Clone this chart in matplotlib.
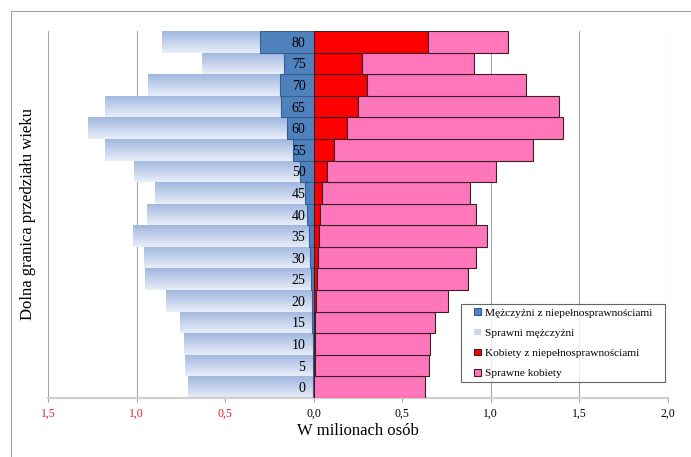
import numpy as np
import matplotlib
matplotlib.use("Agg")
import matplotlib.pyplot as plt
from matplotlib.patches import Patch, Rectangle
from matplotlib.legend_handler import HandlerPatch
from matplotlib.colors import to_rgb

plt.rcParams['font.family'] = ['Liberation Serif', 'DejaVu Serif']

# Age groups (lower bound of each 5-year bracket)
ages = [0, 5, 10, 15, 20, 25, 30, 35, 40, 45, 50, 55, 60, 65, 70, 75, 80]

# Population in millions
men_disabled = [0.005, 0.007, 0.007, 0.009, 0.009, 0.015, 0.020, 0.028, 0.040,
                0.047, 0.075, 0.115, 0.154, 0.184, 0.188, 0.166, 0.301]
men_able = [0.703, 0.718, 0.725, 0.746, 0.825, 0.938, 0.942, 0.995, 0.901,
            0.849, 0.938, 1.067, 1.123, 0.998, 0.750, 0.467, 0.558]
women_disabled = [0.003, 0.005, 0.006, 0.007, 0.010, 0.017, 0.023, 0.027, 0.036,
                  0.045, 0.073, 0.113, 0.189, 0.251, 0.302, 0.271, 0.648]
women_able = [0.626, 0.645, 0.652, 0.679, 0.747, 0.853, 0.894, 0.950, 0.878,
              0.839, 0.955, 1.124, 1.218, 1.137, 0.898, 0.637, 0.452]

x_ticks = [-1.5, -1.0, -0.5, 0.0, 0.5, 1.0, 1.5, 2.0]

labels = ["Mężczyźni z niepełnosprawnościami", "Sprawni mężczyźni",
          "Kobiety z niepełnosprawnościami", "Sprawne kobiety"]

dark_blue = '#4f81bd'
dark_blue_edge = '#365f91'
light_top = '#a0b7e0'
light_bottom = '#e9eef8'
red = '#ff0000'
pink = '#ff76bb'
bar_edge = '#3c1e28'

W, H = 691, 457
fig = plt.figure(figsize=(W / 100, H / 100), dpi=100)
ax = fig.add_axes([48.3 / W, 59 / H, 619.4 / W, 367 / H])

pos = np.arange(len(ages))
md = np.array(men_disabled)
ma = np.array(men_able)
wd = np.array(women_disabled)
wa = np.array(women_able)

# Men on the negative side, disabled part next to the axis
ax.barh(pos, -md, height=1.0, color=dark_blue, edgecolor=dark_blue_edge,
        linewidth=0.8, zorder=3)
able_bars = ax.barh(pos, -ma, left=-md, height=1.0, color=light_bottom,
                    linewidth=0, zorder=2)

# Vertical gradient fill for the able-bodied men bars
c0 = np.array(to_rgb(light_top))
c1 = np.array(to_rgb(light_bottom))
t = np.linspace(0, 1, 64)[:, None]
grad = (c0 * (1 - t) + c1 * t)[:, None, :]
for rect in able_bars:
    x0, y0 = rect.get_x(), rect.get_y()
    w, h = rect.get_width(), rect.get_height()
    im = ax.imshow(grad, extent=[x0 + w, x0, y0, y0 + h], origin='upper',
                   aspect='auto', interpolation='bilinear', zorder=2.1)
    im.set_clip_path(rect)

# Women on the positive side
ax.barh(pos, wd, height=1.0, color=red, edgecolor=bar_edge,
        linewidth=0.8, zorder=3)
ax.barh(pos, wa, left=wd, height=1.0, color=pink, edgecolor=bar_edge,
        linewidth=0.8, zorder=3)

ax.set_xlim(-1.5, 2.0)
ax.set_ylim(-0.5, len(ages) - 0.5)

# X axis
ax.set_xticks(x_ticks)
ax.set_xticklabels([f"{abs(v):.1f}".replace('.', ',') for v in x_ticks],
                   fontsize=8.5)
for lab, v in zip(ax.get_xticklabels(), x_ticks):
    lab.set_color('#e8202a' if v < 0 else 'black')
ax.tick_params(axis='x', direction='out', length=3, width=0.8,
               color='#a0a0a0', pad=4)
ax.grid(axis='x', color='#a6a6a6', linewidth=0.8)
ax.set_axisbelow(True)
ax.set_xlabel("W milionach osób", fontsize=12, labelpad=2.5)

# Age labels sitting at the zero line
ax.set_yticks(pos)
ax.set_yticklabels([str(a) for a in ages], fontsize=8.5)
ax.spines['left'].set_position(('data', 0))
ax.spines['left'].set_visible(False)
ax.tick_params(axis='y', length=0, pad=6)
ax.yaxis.set_zorder(5)

for s in ['top', 'right']:
    ax.spines[s].set_visible(False)
ax.spines['bottom'].set_color('#d0d0d0')
ax.spines['bottom'].set_linewidth(1.6)

fig.text(28 / W, 1 - 214.5 / H, "Dolna granica przedziału wieku",
         rotation=90, ha='center', va='center', fontsize=12)


# Small square legend keys placed at the right end of the handle area
def small_square(legend, orig_handle, xdescent, ydescent, width, height,
                 fontsize):
    s = 0.58 * fontsize
    return Rectangle((-xdescent + width - s, -ydescent + (height - s) / 2),
                     s, s)


handles = [
    Patch(facecolor=dark_blue, edgecolor=dark_blue_edge, linewidth=0.8),
    Patch(facecolor='#c9d6ee', edgecolor='none'),
    Patch(facecolor=red, edgecolor=bar_edge, linewidth=0.8),
    Patch(facecolor=pink, edgecolor=bar_edge, linewidth=0.8),
]
leg = ax.legend(handles, labels, loc='lower left',
                bbox_to_anchor=(0.666, 0.0436, 0.3297, 0.2), mode='expand',
                borderaxespad=0, fontsize=8.2, frameon=True, fancybox=False,
                handlelength=1.45, handleheight=0.7, handletextpad=0.36,
                labelspacing=0.9, borderpad=0.33,
                handler_map={Patch: HandlerPatch(patch_func=small_square)})
leg.get_frame().set_edgecolor('#404040')
leg.get_frame().set_linewidth(0.8)
leg.set_zorder(6)

# Chart border
fig.patches.append(Rectangle((10.5 / W, -0.1), 1.2, 1.1 - 10.5 / H,
                             transform=fig.transFigure, fill=False,
                             edgecolor='#a0a0a0', linewidth=0.8))

fig.savefig("out.png", dpi=100)
